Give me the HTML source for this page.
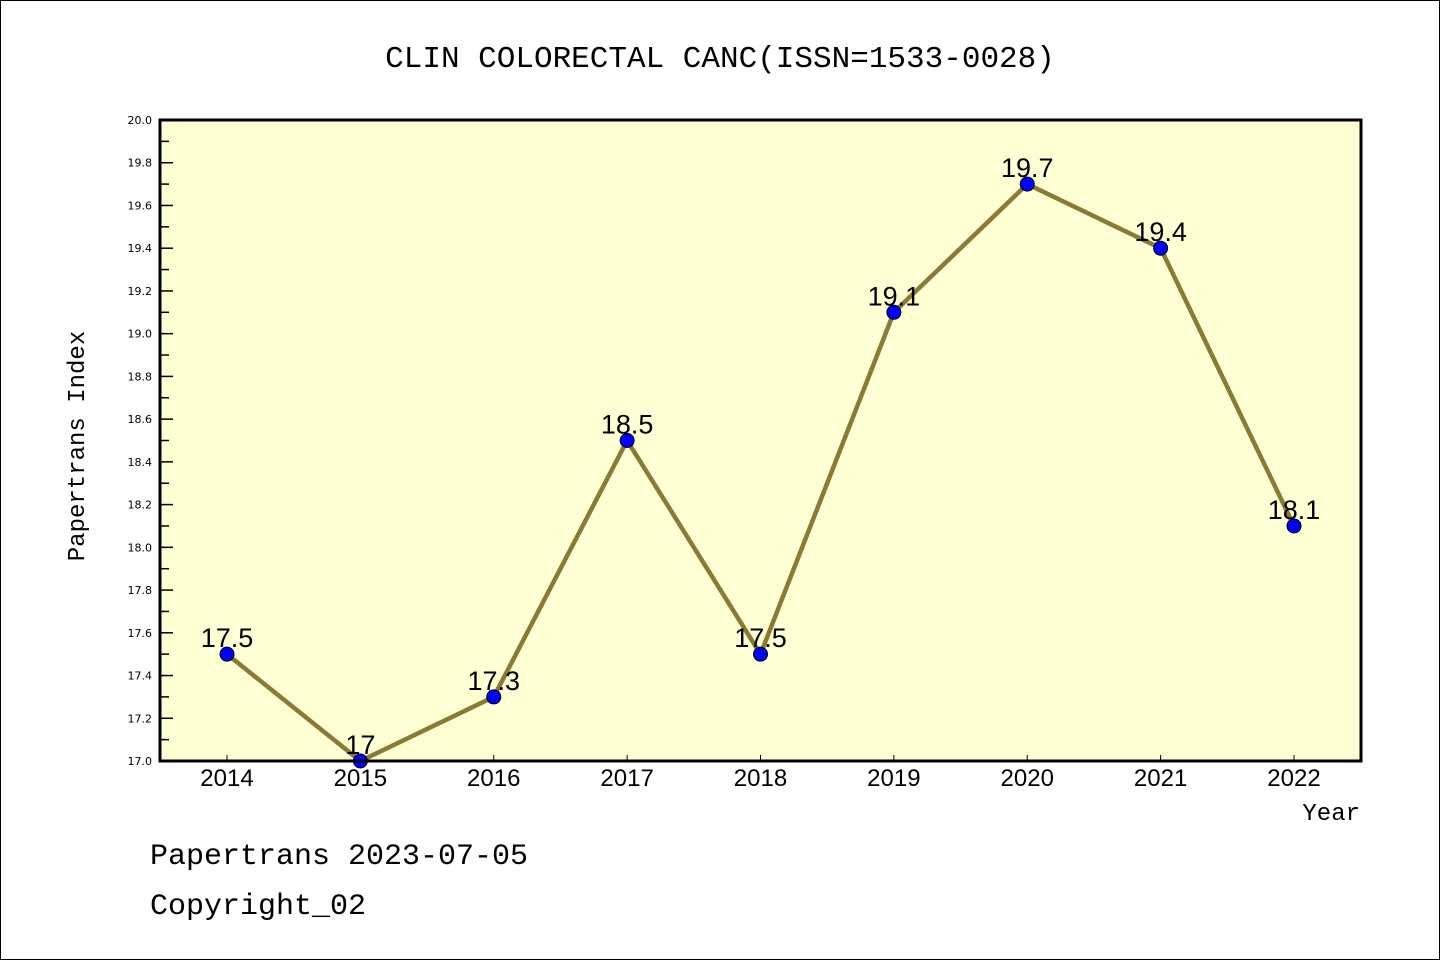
<!DOCTYPE html>
<html><head><meta charset="utf-8"><style>
html,body{margin:0;padding:0;background:#fff}
svg{display:block}
text{font-family:"Liberation Mono","DejaVu Sans Mono",monospace;fill:#000}
.tk{font-family:"DejaVu Sans","Liberation Sans",sans-serif;font-size:11px}
.xl{font-family:"Liberation Sans",sans-serif;font-size:24px}
.vl{font-family:"Liberation Sans",sans-serif;font-size:27px}
</style></head><body>
<svg id="c" width="1440" height="960">
<rect x="0.5" y="0.5" width="1439" height="959" fill="#fff" stroke="#000"/>
<text x="720" y="67" text-anchor="middle" font-size="31">CLIN COLORECTAL CANC(ISSN=1533-0028)</text>
<rect x="160" y="120" width="1201" height="641" fill="#ffffd4"/>
<g id="ticks"></g>
<g id="series"></g>
<rect x="160" y="120" width="1201" height="641" fill="none" stroke="#000" stroke-width="3"/>
<text transform="translate(84,446) rotate(-90)" text-anchor="middle" font-size="24">Papertrans Index</text>
<text x="1360" y="820" text-anchor="end" font-size="24">Year</text>
<text x="150" y="864" font-size="30">Papertrans 2023-07-05</text>
<text x="150" y="914" font-size="30">Copyright_02</text>
</svg>
<script>
const years=["2014","2015","2016","2017","2018","2019","2020","2021","2022"];
const values=[17.5,17.0,17.3,18.5,17.5,19.1,19.7,19.4,18.1];
const valueLabels=["17.5","17","17.3","18.5","17.5","19.1","19.7","19.4","18.1"];
const yTicks=["17.0","17.2","17.4","17.6","17.8","18.0","18.2","18.4","18.6","18.8","19.0","19.2","19.4","19.6","19.8","20.0"];
{
const NS="http://www.w3.org/2000/svg";
const yMin=17,yMax=20,plotTop=120,plotBot=761,plotLeft=160;
const xs=i=>227+i*(1294-227)/(years.length-1);
const ys=v=>plotBot-(v-yMin)/(yMax-yMin)*(plotBot-plotTop);
function mk(tag,attrs,parent){const e=document.createElementNS(NS,tag);for(const k in attrs)e.setAttribute(k,attrs[k]);parent.appendChild(e);return e;}
const tg=document.getElementById('ticks'),sg=document.getElementById('series');
yTicks.forEach((t,i)=>{const v=parseFloat(t),yy=ys(v);
 const l=mk('line',{x1:plotLeft,x2:plotLeft+13,y1:yy,y2:yy,stroke:'#000','stroke-width':1.5},tg);
 
 
 const tx=mk('text',{x:152,y:yy+4,'text-anchor':'end',class:'tk'},tg);tx.textContent=t;
 
 
 if(i<yTicks.length-1){const ym=ys(v+0.1);
  const m=mk('line',{x1:plotLeft,x2:plotLeft+9,y1:ym,y2:ym,stroke:'#000','stroke-width':1.5},tg);
  
  }
});
years.forEach((yr,i)=>{const xx=xs(i);
 const l=mk('line',{x1:xx,x2:xx,y1:plotBot,y2:plotBot-6,stroke:'#000','stroke-width':1},tg);
 
 
 const t=mk('text',{x:xx,y:plotBot+25,'text-anchor':'middle',class:'xl'},tg);t.textContent=yr;
 
 
});
const pl=mk('polyline',{points:values.map((v,i)=>xs(i)+','+ys(v)).join(' '),fill:'none',stroke:'#8b7a35','stroke-width':4.5},sg);


values.forEach((v,i)=>{
 const c=mk('circle',{cx:xs(i),cy:ys(v),r:7,fill:'#0000ff',stroke:'#000','stroke-width':1},sg);
 
 
 const t=mk('text',{x:xs(i),y:ys(v)-7,'text-anchor':'middle',class:'vl'},sg);t.textContent=valueLabels[i];
 
 
});
}
</script>
</body></html>
